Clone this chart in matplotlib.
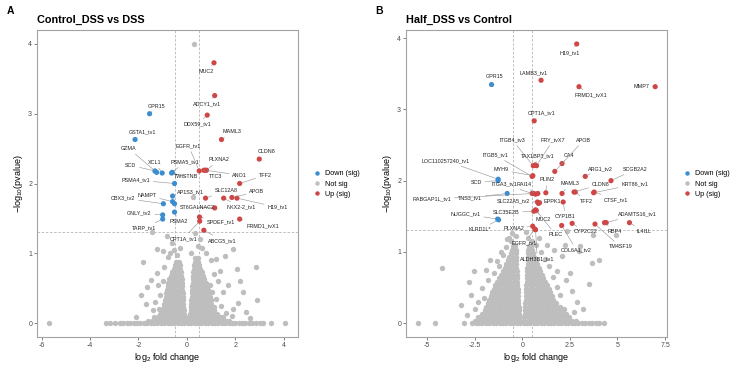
import matplotlib
matplotlib.use("Agg")
import matplotlib.pyplot as plt
from matplotlib.lines import Line2D

plt.rcParams['font.family'] = ['Liberation Sans', 'DejaVu Sans']
plt.rcParams['mathtext.default'] = 'regular'

# ---------------- Panel A data: Control_DSS vs DSS ----------------
a_genes = ['GPR15', 'GSTA1_tv1', 'GZMA', 'SCD', 'XCL1', 'PSMA5_tv1', 'TWISTNB', 'PSMA4_tv1',
           'AP1S3_tv1', 'NAMPT', 'CBX3_tv2', '', 'GNLY_tv2', 'PSMA2', 'TARP_tv1',
           'MUC2', 'ADCY1_tv1', 'DDX59_tv1', 'MAML3', 'CLDN8', 'EGFR_tv1', 'TTC3', 'PLXNA2', 'ANO1',
           'TFF2', 'SLC12A8', 'NKX2-2_tv1', 'APOB', 'H19_tv1', 'ST6GALNAC2', 'SPDEF_tv1',
           'CPT1A_tv1', 'FRMD1_tvX1', 'ABCG5_tv1']
a_lfc = [-1.54, -2.14, -1.25, -1.32, -1.02, -0.60, -0.63, -0.51,
         -0.59, -0.59, -0.97, -0.51, -1.00, -0.51, -1.00,
         1.12, 1.15, 0.84, 1.43, 2.99, 0.51, 0.70, 0.81, 0.77,
         2.18, 0.77, 1.52, 1.86, 2.07, 1.15, 0.52,
         0.53, 2.18, 0.70]
a_logp = [3.00, 2.63, 2.16, 2.18, 2.15, 2.16, 2.15, 2.00,
          1.82, 1.74, 1.71, 1.71, 1.55, 1.59, 1.49,
          3.73, 3.26, 2.98, 2.63, 2.35, 2.18, 2.19, 2.19, 2.19,
          2.00, 1.79, 1.79, 1.80, 1.79, 1.65, 1.52,
          1.46, 1.49, 1.33]
a_label_x = [-1.25, -1.85, -2.39, -2.32, -1.32, -0.08, -0.05, -2.11,
             0.15, -1.65, -2.62, None, -1.96, -0.33, -1.77,
             0.81, 0.85, 0.44, 1.86, 3.29, 0.07, 1.19, 1.32, 2.18,
             3.24, 1.63, 2.23, 2.89, 3.73, 0.42, 1.40,
             -0.15, 3.12, 1.48]
a_label_y = [3.11, 2.74, 2.50, 2.26, 2.30, 2.31, 2.10, 2.05,
             1.88, 1.83, 1.79, None, 1.58, 1.45, 1.36,
             3.61, 3.14, 2.85, 2.74, 2.46, 2.54, 2.10, 2.34, 2.12,
             2.12, 1.90, 1.66, 1.88, 1.66, 1.66, 1.45,
             1.21, 1.40, 1.18]

a_grey_row_y = [0.0, 0.03, 0.08, 0.13, 0.18, 0.23, 0.28, 0.33, 0.38, 0.43, 0.48, 0.53,
                0.58, 0.63, 0.68, 0.73, 0.78, 0.83, 0.88, 0.93]
a_grey_row_x = [
    [-5.68, -3.32, -3.18, -2.95, -2.78, -2.62, -2.48, -2.34, -2.2, -2.06, -1.92, -1.78, -1.64,
     -1.5, -1.36, -1.22, -1.08, -0.94, -0.8, -0.66, -0.52, -0.38, -0.24, -0.1, 0.04, 0.18, 0.32,
     0.46, 0.6, 0.74, 0.88, 1.02, 1.16, 1.3, 1.44, 1.58, 1.72, 1.86, 2.0, 2.14, 2.28, 2.42, 2.56,
     2.7, 2.85, 3.0, 3.15, 3.48, 4.07],
    [-0.06, -0.2, -0.34, -0.48, -0.62, -0.76, -0.9, -1.04, -1.18, -1.32, -1.46, -1.6,
     0.06, 0.2, 0.34, 0.48, 0.62, 0.76, 0.9, 1.04, 1.18, 1.32, 1.46, 1.6, 1.75],
    [-0.08, -0.22, -0.36, -0.5, -0.64, -0.78, -0.92, -1.06, -1.2, -1.35,
     0.1, 0.24, 0.38, 0.52, 0.66, 0.8, 0.94, 1.08, 1.22, 1.36, 1.5],
    [-0.11, -0.25, -0.39, -0.53, -0.67, -0.81, -0.95, -1.1,
     0.13, 0.27, 0.41, 0.55, 0.69, 0.83, 0.97, 1.11, 1.24],
    [-0.13, -0.27, -0.41, -0.55, -0.69, -0.83, -0.97,
     0.15, 0.29, 0.43, 0.57, 0.71, 0.85, 0.99, 1.1],
    [-0.14, -0.28, -0.42, -0.56, -0.7, -0.84, -0.96,
     0.17, 0.31, 0.45, 0.59, 0.73, 0.87, 1.0, 1.1],
    [-0.15, -0.29, -0.43, -0.57, -0.71, -0.85, -0.93,
     0.18, 0.32, 0.46, 0.6, 0.74, 0.88, 0.98],
    [-0.16, -0.3, -0.44, -0.58, -0.72, -0.86, -0.9,
     0.19, 0.33, 0.47, 0.61, 0.75, 0.89, 0.98],
    [-0.17, -0.31, -0.45, -0.59, -0.73, -0.87,
     0.2, 0.34, 0.48, 0.62, 0.76, 0.9, 0.96],
    [-0.18, -0.32, -0.46, -0.6, -0.74, -0.85,
     0.21, 0.35, 0.49, 0.63, 0.77, 0.88],
    [-0.19, -0.33, -0.47, -0.61, -0.75, -0.83,
     0.22, 0.36, 0.5, 0.64, 0.78, 0.86],
    [-0.2, -0.34, -0.48, -0.62, -0.76, -0.8,
     0.23, 0.37, 0.51, 0.65, 0.79, 0.84],
    [-0.21, -0.35, -0.49, -0.63, -0.76,
     0.24, 0.38, 0.52, 0.66, 0.78],
    [-0.22, -0.36, -0.5, -0.64, -0.72,
     0.25, 0.39, 0.53, 0.67, 0.72],
    [-0.24, -0.38, -0.52, -0.66,
     0.26, 0.4, 0.54, 0.68],
    [-0.26, -0.4, -0.54, -0.62,
     0.27, 0.41, 0.55, 0.62],
    [-0.28, -0.42, -0.54,
     0.29, 0.43, 0.56],
    [-0.3, -0.44, -0.5,
     0.3, 0.44, 0.5],
    [-0.33, -0.45,
     0.32, 0.46],
    [0.34, 0.46],
]
a_grey_sx = [-1.45, -0.84, 0.33, -1.22, -0.98, 1.91, 1.57, 1.22, -1.80, 2.84, 2.05, -1.25, -1.66,
             -1.69, -1.41, 1.91, 2.11, 2.89, 2.45, -1.04, 0.28, 0.26, -0.7, -0.55, -0.8, -0.4,
             0.15, 0.45, 0.62, 0.78, 1.0, 1.3, 1.5, 1.2, 1.4, 1.1, -1.1, -1.3, -1.0, -0.95, -1.2,
             1.7, 1.35, 0.95, 1.05, -1.5, -1.9, 2.3, 2.2, -0.6, -0.3, 0.55, -1.15, 1.6, 1.85,
             -2.1, 2.6]
a_grey_sy = [1.30, 1.25, 1.29, 1.06, 1.03, 1.06, 0.96, 0.92, 0.87, 0.81, 0.77, 0.72, 0.51,
             0.27, 0.18, 0.20, 0.29, 0.33, 0.16, 0.18, 4.00, 1.80, 1.0, 1.05, 0.95, 0.97,
             1.0, 1.1, 1.08, 1.0, 0.9, 0.6, 0.45, 0.35, 0.25, 0.7, 0.4, 0.3, 0.6, 0.8, 0.55,
             0.55, 0.75, 0.55, 0.45, 0.62, 0.4, 0.45, 0.6, 1.15, 1.08, 1.2, 0.2, 0.15, 0.1,
             0.08, 0.07]

# ---------------- Panel B data: Half_DSS vs Control ----------------
b_genes = ['GPR15', 'LOC110257240_tv1', 'SCD', 'TNS3_tv1', 'NUGGC_tv1', 'KLRD1L*',
           'H19_tv1', 'LAMB3_tv1', 'FRMD1_tvX1', 'MMP7', 'CPT1A_tv1', 'ITGB4_tv3', 'TAX1BP3_tv1',
           'FRY_tvX7', 'CA4', 'APOB', 'ITGB5_tv1', 'MYH9', 'ARG1_tv2', 'SCGB2A2', 'ITGA3_tv1',
           'RABGAP1L_tv1', 'RAI14', '', 'PLIN2', 'MAML3', 'CLDN8', 'TFF2', 'KRT86_tv1', 'CTSF_tv1',
           'SLC22A5_tv2', 'EPPK1', '', 'CYP1B1', 'SLC35E2B', 'MUC2', 'PLEC', 'PLXNA2', 'EGFR_tv1',
           'ALDH3B1_tv1', 'COL6A1_tv2', 'CYP2C22', 'TM4SF19', 'RBP4', 'ADAMTS16_tv1', 'IL4I1L']
b_lfc = [-1.61, -1.26, -1.27, -0.79, -1.29, -1.24,
         2.86, 0.99, 2.98, 6.98, 0.63, 0.58, 0.68,
         0.75, 2.09, 1.71, 0.52, 0.56, 3.31, 4.66, 0.52,
         0.60, 0.70, 0.82, 1.24, 2.09, 2.72, 2.79, 3.75, 3.78,
         0.80, 0.91, 0.85, 2.15, 0.61, 0.70, 0.74, 0.55, 0.66,
         0.70, 2.07, 2.62, 3.82, 4.32, 4.41, 5.63]
b_logp = [3.35, 2.02, 2.00, 1.82, 1.46, 1.45,
          3.92, 3.41, 3.32, 3.32, 2.84, 2.21, 2.22,
          2.21, 2.24, 2.13, 2.06, 2.07, 2.06, 2.00, 1.82,
          1.82, 1.81, 1.82, 1.83, 1.82, 1.84, 1.84, 1.83, 1.84,
          1.70, 1.69, 1.68, 1.70, 1.57, 1.59, 1.58, 1.36, 1.32,
          1.31, 1.37, 1.40, 1.39, 1.41, 1.41, 1.41]
b_label_x = [-1.47, -4.02, -2.41, -2.74, -2.97, -2.24,
             2.51, 0.61, 3.59, 6.25, 0.99, -0.52, 0.82,
             1.62, 2.46, 3.23, -1.43, -1.10, 4.12, 5.95, -0.96,
             -4.75, 0.08, None, 1.29, 2.49, 4.12, 3.38, 5.90, 4.94,
             -0.47, 1.59, None, 2.27, -0.84, 1.08, 1.76, -0.46, 0.12,
             0.79, 2.84, 3.33, 5.16, 4.87, 6.04, 6.37]
b_label_y = [3.46, 2.28, 1.98, 1.76, 1.53, 1.31,
             3.80, 3.52, 3.20, 3.32, 2.95, 2.57, 2.35,
             2.57, 2.36, 2.57, 2.36, 2.15, 2.17, 2.16, 1.95,
             1.74, 1.95, None, 2.01, 1.96, 1.95, 1.71, 1.95, 1.73,
             1.71, 1.71, None, 1.50, 1.55, 1.45, 1.24, 1.33, 1.13,
             0.90, 1.03, 1.28, 1.07, 1.29, 1.53, 1.29]

b_grey_row_y = [0.0, 0.03, 0.08, 0.13, 0.18, 0.23, 0.28, 0.33, 0.38, 0.43, 0.48, 0.53, 0.58,
                0.63, 0.68, 0.73, 0.78, 0.83, 0.88, 0.93, 0.98, 1.03, 1.08]
b_grey_row_x = [
    [-5.48, -4.57, -3.07, -2.62, -2.45, -2.27, -2.09, -1.91, -1.73, -1.55, -1.37, -1.19, -1.01,
     -0.83, -0.65, -0.47, -0.29, -0.11, 0.07, 0.25, 0.43, 0.61, 0.79, 0.97, 1.15, 1.33, 1.51,
     1.69, 1.87, 2.05, 2.23, 2.41, 2.59, 2.77, 2.95, 3.13, 3.31, 3.49, 3.67, 3.85, 4.05, 4.3],
    [-0.12, -0.3, -0.48, -0.66, -0.84, -1.02, -1.2, -1.38, -1.56, -1.74, -1.92, -2.1, -2.28, -2.46,
     0.1, 0.28, 0.46, 0.64, 0.82, 1.0, 1.18, 1.36, 1.54, 1.72, 1.9, 2.08, 2.26, 2.44, 2.62, 2.8],
    [-0.14, -0.32, -0.5, -0.68, -0.86, -1.04, -1.22, -1.4, -1.58, -1.76, -1.94, -2.12, -2.3,
     0.12, 0.3, 0.48, 0.66, 0.84, 1.02, 1.2, 1.38, 1.56, 1.74, 1.92, 2.1, 2.28, 2.46],
    [-0.16, -0.34, -0.52, -0.7, -0.88, -1.06, -1.24, -1.42, -1.6, -1.78, -1.96, -2.12,
     0.14, 0.32, 0.5, 0.68, 0.86, 1.04, 1.22, 1.4, 1.58, 1.76, 1.94, 2.12, 2.3],
    [-0.18, -0.36, -0.54, -0.72, -0.9, -1.08, -1.26, -1.44, -1.62, -1.8, -1.96,
     0.15, 0.33, 0.51, 0.69, 0.87, 1.05, 1.23, 1.41, 1.59, 1.77, 1.95, 2.13],
    [-0.19, -0.37, -0.55, -0.73, -0.91, -1.09, -1.27, -1.45, -1.63, -1.81, -1.88,
     0.16, 0.34, 0.52, 0.7, 0.88, 1.06, 1.24, 1.42, 1.6, 1.78, 1.96],
    [-0.2, -0.38, -0.56, -0.74, -0.92, -1.1, -1.28, -1.46, -1.64, -1.78,
     0.17, 0.35, 0.53, 0.71, 0.89, 1.07, 1.25, 1.43, 1.61, 1.79],
    [-0.21, -0.39, -0.57, -0.75, -0.93, -1.11, -1.29, -1.47, -1.65, -1.72,
     0.18, 0.36, 0.54, 0.72, 0.9, 1.08, 1.26, 1.44, 1.62],
    [-0.22, -0.4, -0.58, -0.76, -0.94, -1.12, -1.3, -1.48, -1.66,
     0.19, 0.37, 0.55, 0.73, 0.91, 1.09, 1.27, 1.45, 1.58],
    [-0.23, -0.41, -0.59, -0.77, -0.95, -1.13, -1.31, -1.49, -1.6,
     0.2, 0.38, 0.56, 0.74, 0.92, 1.1, 1.28, 1.45],
    [-0.24, -0.42, -0.6, -0.78, -0.96, -1.14, -1.32, -1.5,
     0.21, 0.39, 0.57, 0.75, 0.93, 1.11, 1.29, 1.4],
    [-0.25, -0.43, -0.61, -0.79, -0.97, -1.15, -1.33, -1.42,
     0.22, 0.4, 0.58, 0.76, 0.94, 1.12, 1.28],
    [-0.26, -0.44, -0.62, -0.8, -0.98, -1.16, -1.32,
     0.23, 0.41, 0.59, 0.77, 0.95, 1.13, 1.2],
    [-0.27, -0.45, -0.63, -0.81, -0.99, -1.17, -1.22,
     0.24, 0.42, 0.6, 0.78, 0.96, 1.1],
    [-0.28, -0.46, -0.64, -0.82, -1.0, -1.12,
     0.25, 0.43, 0.61, 0.79, 0.97, 1.02],
    [-0.29, -0.47, -0.65, -0.83, -1.01,
     0.26, 0.44, 0.62, 0.8, 0.94],
    [-0.3, -0.48, -0.66, -0.84, -0.92,
     0.27, 0.45, 0.63, 0.81, 0.86],
    [-0.31, -0.49, -0.67, -0.84,
     0.28, 0.46, 0.64, 0.78],
    [-0.32, -0.5, -0.68, -0.76,
     0.29, 0.47, 0.65, 0.72],
    [-0.33, -0.51, -0.68,
     0.3, 0.48, 0.62],
    [-0.34, -0.52, -0.6,
     0.31, 0.49, 0.58],
    [-0.35, -0.52,
     0.32, 0.5],
    [-0.38, -0.5,
     0.34, 0.48],
]
b_grey_sx = [-4.19, -2.79, -2.53, -2.09, -1.31, -1.70, -0.87, -0.70, -0.52, -1.0, -1.2, -1.5,
             -1.8, -2.0, -2.3, -2.5, -2.9, -3.2, -2.7, -1.9, -0.6, -0.35, 0.3, 0.5, 0.7, 0.2,
             1.65, 2.96, 4.01, 3.66, 2.36, 3.72, 4.93, 2.27, 3.05, 1.83, 2.09, 1.4, 1.2, 1.0,
             2.3, 2.6, 2.9, 3.2, 2.5, 1.8, 2.0, 3.5, 2.2, 2.7, 1.6, 0.9, -0.8, -1.1, 1.3]
b_grey_sy = [0.78, 0.57, 0.73, 0.49, 0.87, 0.88, 1.07, 1.20, 1.27, 0.95, 0.8, 0.7,
             0.6, 0.35, 0.3, 0.2, 0.12, 0.25, 0.4, 0.75, 1.15, 1.22, 1.2, 1.15, 1.1, 1.28,
             1.03, 1.01, 0.89, 0.85, 1.29, 1.24, 1.24, 1.10, 1.08, 0.73, 0.94, 0.8, 0.9, 1.0,
             0.6, 0.45, 0.3, 0.2, 0.7, 0.5, 0.4, 0.55, 0.2, 0.15, 0.65, 1.2, 1.18, 1.0, 1.1]

a_xticks = [-6, -4, -2, 0, 2, 4]
a_xticklabels = ['-6', '-4', '-2', '0', '2', '4']
b_xticks = [-5, -2.5, 0, 2.5, 5, 7.5]
b_xticklabels = ['-5', '-2.5', '0', '2.5', '5', '7.5']
yticks = [0, 1, 2, 3, 4]

lfc_cut = 0.5
p_cut = 1.301

BLUE = '#3A8DD0'
RED = '#CF4646'
GREY = '#BEBEBE'

W, H = 735, 366
fig = plt.figure(figsize=(W / 100, H / 100), dpi=100)


def panel(rect, letter, title, genes, lfc, logp, lx, ly, row_y, row_x, sx, sy,
          xlim, ylim, xticks, xticklabels, leg_x):
    ax = fig.add_axes(rect)
    gx, gy = [], []
    for yv, xs in zip(row_y, row_x):
        for xv in xs:
            gx.append(xv)
            gy.append(yv)
    gx += sx
    gy += sy
    ax.scatter(gx, gy, s=15, c=GREY, linewidths=0, zorder=1)
    cols = [BLUE if v < 0 else RED for v in lfc]
    ax.scatter(lfc, logp, s=14, c=cols, linewidths=0, zorder=4)

    for v in (-lfc_cut, lfc_cut):
        ax.axvline(v, color='#B5B5B5', lw=0.6, ls=(0, (3, 2)), zorder=0)
    ax.axhline(p_cut, color='#B5B5B5', lw=0.6, ls=(0, (3, 2)), zorder=0)

    for g, x, y, tx, ty in zip(genes, lfc, logp, lx, ly):
        if not g:
            continue
        ax.annotate(g, xy=(x, y), xytext=(tx, ty), ha='center', va='center',
                    fontsize=3.9, color='#222222', zorder=5, annotation_clip=False,
                    arrowprops=dict(arrowstyle='-', color='#8F8F8F', lw=0.4,
                                    shrinkA=0.3, shrinkB=1.8))

    ax.set_xlim(*xlim)
    ax.set_ylim(*ylim)
    ax.set_xticks(xticks)
    ax.set_xticklabels(xticklabels)
    ax.set_yticks(yticks)
    ax.tick_params(labelsize=5, colors='#4D4D4D', length=2, width=0.5, pad=1.5)
    for sp in ax.spines.values():
        sp.set_color('#A3A3A3')
        sp.set_linewidth(0.8)
    ax.set_xlabel('log$_2$ fold change', fontsize=6.5, labelpad=1.5)
    ax.set_ylabel('\u2212log$_{10}$(pvalue)', fontsize=6.5, labelpad=2.5)

    l, b, w, h = rect
    fig.text(l, 1 - 20 / H, title, fontsize=7.8, fontweight='bold', ha='left', va='center')
    fig.text(l - 27 / W, 1 - 11 / H, letter, fontsize=7.5, fontweight='bold', ha='center', va='center')

    handles = [Line2D([], [], ls='', marker='o', ms=3.2, mew=0, color=c) for c in (BLUE, GREY, RED)]
    ax.legend(handles, ['Down (sig)', 'Not sig', 'Up (sig)'], loc='center left',
              bbox_to_anchor=(leg_x, 1 - 184 / H), bbox_transform=fig.transFigure,
              frameon=False, fontsize=5.2, handlelength=0.8, handletextpad=0.7,
              labelspacing=0.45, borderpad=0, borderaxespad=0)
    return ax


panel([37 / W, 1 - 337 / H, 261 / W, 307 / H], 'A', 'Control_DSS vs DSS',
      a_genes, a_lfc, a_logp, a_label_x, a_label_y, a_grey_row_y, a_grey_row_x,
      a_grey_sx, a_grey_sy, (-6.19, 4.59), (-0.2, 4.2), a_xticks, a_xticklabels, 314 / W)
panel([406 / W, 1 - 337 / H, 261 / W, 307 / H], 'B', 'Half_DSS vs Control',
      b_genes, b_lfc, b_logp, b_label_x, b_label_y, b_grey_row_y, b_grey_row_x,
      b_grey_sx, b_grey_sy, (-6.1, 7.6), (-0.196, 4.116), b_xticks, b_xticklabels, 684 / W)

fig.savefig('out.png', dpi=100)
